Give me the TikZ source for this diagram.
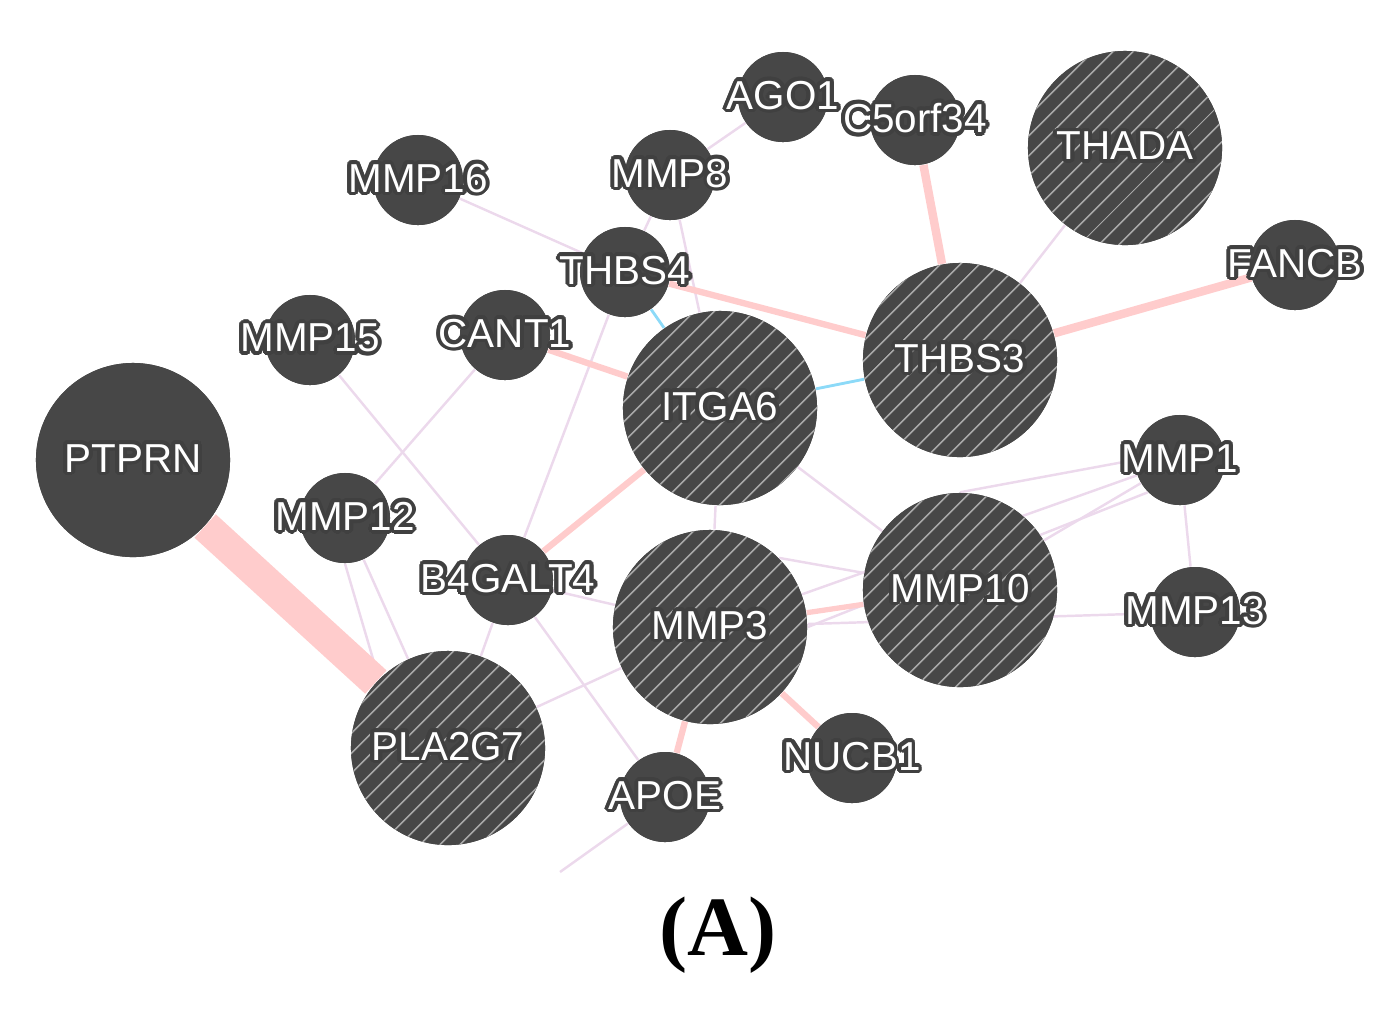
\documentclass[tikz,border=0pt]{standalone}
\usepackage{fontspec}
\setmainfont{Liberation Serif}
\newfontfamily\genefont{Liberation Sans}
\usepackage[copies]{contour}
\usetikzlibrary{patterns.meta}
\colorlet{nodeC}{black!72}
\colorlet{edgeP}{red!20}
\colorlet{edgeL}{violet!15}
\colorlet{edgeC}{cyan!45}
\contourlength{1.1pt}
\newcommand{\gname}[1]{\contour{black!75}{#1}}

\tikzset{
  gene/.style={circle,fill=nodeC,inner sep=0pt,minimum size=0.9cm},
  hub/.style={gene,minimum size=1.94cm},
  hatch/.style={postaction={pattern={Lines[angle=45,distance=4pt,line width=0.5pt]},pattern color=gray!70}},
  glabel/.style={font=\genefont\fontsize{11.5}{14}\selectfont,text=white},
  thin/.style={edgeL,line width=0.7pt},
  fat/.style={edgeP,line width=#1},
  coex/.style={edgeC,line width=0.8pt}
}

\begin{document}
\begin{tikzpicture}[x=0.01cm,y=-0.01cm]
	\useasboundingbox (0,0) rectangle (1392,1026);

 % ================================================================
 % genes
 % ================================================================
	\node[gene] (AGO1) at (783,97) {};
	\node[gene] (C5orf34) at (915,120) {};
	\node[hub] (THADA) at (1125,148) {};
	\node[gene] (MMP16) at (418,180) {};
	\node[gene] (MMP8) at (670,175) {};
	\node[gene] (FANCB) at (1295,265) {};
	\node[gene] (THBS4) at (625,272) {};
	\node[gene] (MMP15) at (310,340) {};
	\node[gene] (CANT1) at (505,335) {};
	\node[hub] (THBS3) at (960,360) {};
	\node[hub] (ITGA6) at (720,408) {};
	\node[hub] (PTPRN) at (133,460) {};
	\node[gene] (MMP1) at (1180,460) {};
	\node[gene] (MMP12) at (345,518) {};
	\node[gene] (B4GALT4) at (508,580) {};
	\node[hub] (MMP3) at (710,627) {};
	\node[hub] (MMP10) at (960,590) {};
	\node[gene] (MMP13) at (1195,612) {};
	\node[hub] (PLA2G7) at (448,748) {};
	\node[gene] (NUCB1) at (852,758) {};
	\node[gene] (APOE) at (665,797) {};
	\coordinate (out) at (560,872);

 % ----------------------------------------
 % links
 % ----------------------------------------
	% thin links
	\draw[thin] (MMP16) -- (THBS4);
	\draw[thin] (MMP8) -- (THBS4);
	\draw[thin] (AGO1) -- (MMP8);
	\draw[thin] (MMP8) -- (ITGA6);
	\draw[thin] (THADA) -- (THBS3);
	\draw[thin] (MMP15) -- (B4GALT4);
	\draw[thin] (CANT1) -- (MMP12);
	\draw[thin] (THBS4) -- (B4GALT4);
	\draw[thin] (ITGA6) -- (MMP3);
	\draw[thin] (ITGA6) -- (MMP10);
	\draw[thin] (MMP1) -- (MMP10);
	\draw[thin] (MMP1.west) -- (MMP10.north);
	\draw[thin] (MMP1) -- (MMP3);
	\draw[thin] (MMP1.south west) -- (MMP3.east);
	\draw[thin] (MMP1) -- (MMP13);
	\draw[thin] (MMP13) -- (MMP3);
	\draw[thin] (MMP12) -- (PLA2G7);
	\draw[thin] (MMP12.south) -- (PLA2G7.north west);
	\draw[thin] (B4GALT4) -- (PLA2G7);
	\draw[thin] (B4GALT4) -- (APOE);
	\draw[thin] (B4GALT4) -- (MMP3);
	\draw[thin] (PLA2G7) -- (MMP3);
	\draw[thin] (APOE) -- (out);
	\draw[thin] (MMP10) -- (MMP3.north east);
	% coexpression
	\draw[coex] (ITGA6) -- (THBS3);
	\draw[coex] (THBS4) -- (ITGA6);
	% thick links
	\draw[fat=9pt] (PTPRN) -- (PLA2G7);
	\draw[fat=2.4pt] (C5orf34) -- (THBS3);
	\draw[fat=2.4pt] (FANCB) -- (THBS3);
	\draw[fat=1.8pt] (THBS4) -- (THBS3);
	\draw[fat=1.8pt] (CANT1) -- (ITGA6);
	\draw[fat=1.8pt] (ITGA6) -- (B4GALT4);
	\draw[fat=1.8pt] (MMP3) -- (NUCB1);
	\draw[fat=1.8pt] (MMP3) -- (APOE);
	\draw[fat=1.5pt] (MMP3) -- (MMP10);

	% redraw genes over links
	\foreach \g in {AGO1,C5orf34,MMP16,MMP8,FANCB,THBS4,MMP15,CANT1,MMP1,MMP12,B4GALT4,MMP13,NUCB1,APOE}
	  \fill[nodeC] (\g) circle[radius=0.45cm];
	\fill[nodeC] (PTPRN) circle[radius=0.97cm];
	\foreach \g in {THADA,THBS3,ITGA6,MMP3,MMP10,PLA2G7}
	  \fill[nodeC,hatch] (\g) circle[radius=0.97cm];

	% labels
	\foreach \g in {AGO1,C5orf34,THADA,MMP16,MMP8,FANCB,THBS4,MMP15,CANT1,THBS3,ITGA6,PTPRN,MMP1,MMP12,B4GALT4,MMP3,MMP10,MMP13,PLA2G7,NUCB1,APOE}
	  \node[glabel] at (\g) {\gname{\g}};

	% panel tag
	\node[font=\fontsize{24}{28}\selectfont\bfseries] (tag) at (718,935) {(A)};
\end{tikzpicture}
\end{document}
